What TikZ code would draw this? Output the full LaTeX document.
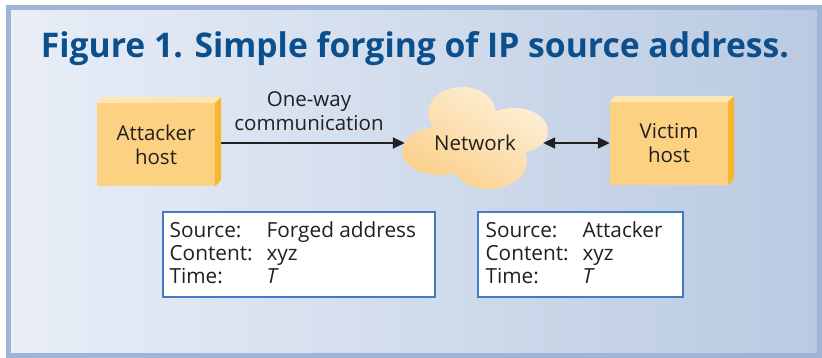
\documentclass[tikz,border=0pt]{standalone}
\usepackage{fontspec}
\setmainfont{Open Sans}
\usetikzlibrary{arrows.meta,positioning}
\definecolor{bgL}{HTML}{E9EEF7}
\definecolor{bgR}{HTML}{BACAE1}
\definecolor{frameC}{HTML}{A0B4D5}
\definecolor{titleC}{HTML}{0B4F8C}
\definecolor{boxFront}{HTML}{FCD182}
\definecolor{boxTop}{HTML}{FDE6B4}
\definecolor{boxSide}{HTML}{F8B52E}
\definecolor{cloudA}{HTML}{FDF0D8}
\definecolor{cloudB}{HTML}{FBD08A}
\definecolor{infoC}{HTML}{3F7EC4}
\definecolor{txt}{HTML}{231F20}
\tikzset{
  hostbox/.style={fill=boxFront, minimum width=118pt, minimum height=83pt, inner sep=0pt,
    align=center, text=txt, font=\fontsize{20.5}{24}\selectfont},
  infobox/.style={draw=infoC, line width=1.2pt, fill=white, inner sep=0pt},
  infotext/.style={anchor=west, inner sep=0pt, text=txt, font=\fontsize{20.8}{23}\selectfont},
  conn/.style={line width=2pt, draw=txt, >={Triangle[length=12pt,width=11pt]}}
}
\newcommand{\hostfaces}[1]{%
  \fill[boxTop] (#1.north west) -- ++(6,-6) -- ++(118,0) -- (#1.north east) -- cycle;
  \fill[boxSide] (#1.north east) -- ++(6,-6) -- ++(0,83) -- (#1.south east) -- cycle;
}
\begin{document}
\begin{tikzpicture}[x=1pt,y=-1pt]
\useasboundingbox (0,0) rectangle (822,358);
\fill[white] (0,0) rectangle (822,358);
\shade[left color=bgL, right color=bgR] (8.5,7.5) rectangle (819.5,355.5);
\draw[frameC, line width=5pt] (8.5,7.5) rectangle (819.5,355.5);

\node[text=titleC, font=\fontsize{34}{36}\selectfont\bfseries, anchor=base] (title) at (415,58)
  {\scalebox{0.99}[1]{Figure 1. Simple forging of IP source address.}};

% cloud
\shade[top color=cloudA, bottom color=cloudB, shading angle=-30]
  (462,113) ellipse [x radius=34, y radius=26]
  (514,131) ellipse [x radius=34, y radius=23]
  (440,151) ellipse [x radius=38, y radius=24]
  (489,161) ellipse [x radius=38, y radius=28]
  (475,140) ellipse [x radius=45, y radius=25];

\node[hostbox] (att) at (156,144.5) {Attacker\\host};
\node[hostbox] (vic) at (669,143.5) {Victim\\host};
\node[minimum width=140pt, inner sep=0pt, text=txt, font=\fontsize{20.5}{24}\selectfont] (net) at (475,143) {Network};

\draw[conn, ->] ([xshift=6pt]att.east |- net.west) -- (net.west);
\draw[conn, <->] ([xshift=-2pt]net.east) -- (vic.west |- net.east);
\hostfaces{att}
\hostfaces{vic}

\node[align=center, text=txt, font=\fontsize{20.5}{24}\selectfont, anchor=base] (lbl) at (309,131) {One-way\\communication};

\node[infobox, minimum width=272pt, minimum height=85pt] (info1) at (299,254.5) {};
\node[infobox, minimum width=205pt, minimum height=85pt] (info2) at (580.5,254.5) {};
\node[infotext] (t1) at ([xshift=7pt,yshift=-1pt]info1.west)
  {\begin{tabular}{@{}p{97pt}@{}l@{}}Source: & Forged address\\ Content: & xyz\\ Time: & \textit{T}\end{tabular}};
\node[infotext] (t2) at ([xshift=8pt,yshift=-1pt]info2.west)
  {\begin{tabular}{@{}p{97pt}@{}l@{}}Source: & Attacker\\ Content: & xyz\\ Time: & \textit{T}\end{tabular}};
\end{tikzpicture}
\end{document}
